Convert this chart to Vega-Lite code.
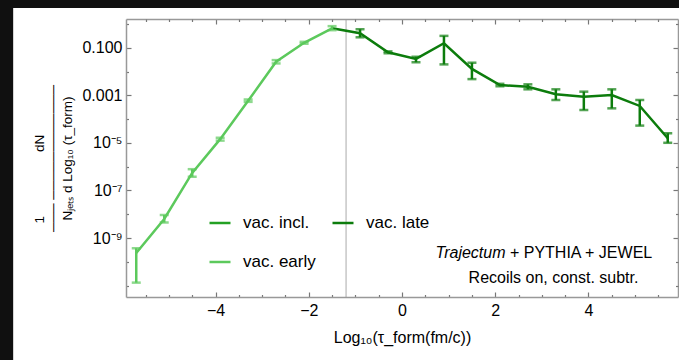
{
  "$schema": "https://vega.github.io/schema/vega-lite/v6.json",
  "width": 552,
  "height": 278,
  "autosize": {"type": "none"},
  "padding": {"left": 126, "top": 19, "right": 1, "bottom": 63},
  "background": "#101010",
  "config": {
    "font": "Liberation Sans",
    "view": {"stroke": null},
    "axis": {"grid": false, "labelFont": "Liberation Sans", "titleFont": "Liberation Sans", "labelColor": "#000000", "titleColor": "#000000", "titleFontWeight": "normal", "tickColor": "#777777", "tickWidth": 1.2, "domainColor": "#999999", "domainWidth": 1.5}
  },
  "datasets": {
    "points": [
      {"x": -5.7, "y": 2.34e-10, "lo": 1.32e-11, "hi": 3.7e-10, "series": "vac. early"},
      {"x": -5.1, "y": 6.3e-9, "lo": 4.5e-9, "hi": 9.3e-9, "series": "vac. early"},
      {"x": -4.5, "y": 5.5e-7, "lo": 3.8e-7, "hi": 7.9e-7, "series": "vac. early"},
      {"x": -3.9, "y": 1.45e-5, "lo": 1.26e-5, "hi": 1.66e-5, "series": "vac. early"},
      {"x": -3.3, "y": 6.0e-4, "lo": 5.4e-4, "hi": 6.8e-4, "series": "vac. early"},
      {"x": -2.7, "y": 0.0263, "lo": 0.0224, "hi": 0.0309, "series": "vac. early"},
      {"x": -2.1, "y": 0.166, "lo": 0.151, "hi": 0.182, "series": "vac. early"},
      {"x": -1.5, "y": 0.676, "lo": 0.562, "hi": 0.832, "series": "vac. early"},
      {"x": -1.5, "y": 0.676, "lo": null, "hi": null, "series": "vac. late"},
      {"x": -0.9, "y": 0.417, "lo": 0.282, "hi": 0.617, "series": "vac. late"},
      {"x": -0.3, "y": 0.066, "lo": 0.06, "hi": 0.072, "series": "vac. late"},
      {"x": 0.3, "y": 0.0347, "lo": 0.0251, "hi": 0.0427, "series": "vac. late"},
      {"x": 0.9, "y": 0.158, "lo": 0.0204, "hi": 0.324, "series": "vac. late"},
      {"x": 1.5, "y": 0.0132, "lo": 0.0049, "hi": 0.024, "series": "vac. late"},
      {"x": 2.1, "y": 0.00275, "lo": 0.00245, "hi": 0.0031, "series": "vac. late"},
      {"x": 2.7, "y": 0.00234, "lo": 0.00182, "hi": 0.00295, "series": "vac. late"},
      {"x": 3.3, "y": 0.00112, "lo": 0.000646, "hi": 0.00182, "series": "vac. late"},
      {"x": 3.9, "y": 0.00089, "lo": 0.000245, "hi": 0.00145, "series": "vac. late"},
      {"x": 4.5, "y": 0.00105, "lo": 0.000288, "hi": 0.00182, "series": "vac. late"},
      {"x": 5.1, "y": 0.000363, "lo": 5.4e-5, "hi": 0.000646, "series": "vac. late"},
      {"x": 5.7, "y": 1.58e-5, "lo": 1.02e-5, "hi": 2.57e-5, "series": "vac. late"}
    ],
    "one": [{"n": 1}]
  },
  "resolve": {"axis": {"x": "independent", "y": "independent"}},
  "layer": [
    {
      "data": {"name": "one"},
      "mark": {"type": "rect", "color": "#ffffff"},
      "encoding": {
        "x": {"datum": -8.34, "type": "quantitative", "axis": {"zindex": 1, "orient": "bottom", "values": [-5.5, -5, -4.5, -3.5, -3, -2.5, -1.5, -1, -0.5, 0.5, 1, 1.5, 2.5, 3, 3.5, 4.5, 5, 5.5], "tickSize": -2.5, "labels": false, "domain": false, "title": null}},
        "x2": {"datum": 8},
        "y": {"datum": 4.83, "type": "quantitative", "axis": {"zindex": 1, "orient": "left", "values": [1, 0.01, 0.0001, 1e-6, 1e-8, 1e-10, 1e-11], "tickSize": -2.5, "labels": false, "domain": false, "title": null}},
        "y2": {"datum": 1e-16}
      }
    },
    {
      "data": {"name": "one"},
      "mark": {"type": "rule", "color": "#aaaaaa", "strokeWidth": 1},
      "encoding": {"x": {"datum": -1.2, "type": "quantitative", "axis": null}}
    },
    {
      "data": {"name": "points"},
      "mark": {"type": "line", "strokeWidth": 2.5},
      "encoding": {
        "x": {"field": "x", "type": "quantitative", "scale": {"domain": [-5.92, 5.92], "nice": false, "zero": false},
          "axis": {"zindex": 1, "orient": "bottom", "values": [-4, -2, 0, 2, 4], "tickSize": -5, "labelPadding": 10, "labelFontSize": 16, "title": "Log₁₀(τ_form(fm/c))", "titleFontSize": 16, "titlePadding": 11}},
        "y": {"field": "y", "type": "quantitative", "scale": {"type": "log", "domain": [3.28e-12, 1.663], "nice": false},
          "axis": {"zindex": 1, "orient": "left", "values": [0.1, 0.001, 1e-5, 1e-7, 1e-9], "tickSize": -5, "labelPadding": 9, "labelFontSize": 16,
            "labelExpr": "datum.value > 0.05 ? '0.100' : datum.value > 0.0005 ? '0.001' : datum.value > 5e-6 ? '10⁻⁵' : datum.value > 5e-8 ? '10⁻⁷' : '10⁻⁹'",
            "title": ["1\u00a0\u00a0\u00a0\u00a0\u00a0\u00a0\u00a0\u00a0\u00a0\u00a0\u00a0\u00a0\u00a0\u00a0\u00a0\u00a0\u00a0dN\u00a0\u00a0\u00a0\u00a0\u00a0\u00a0\u00a0\u00a0\u00a0\u00a0\u00a0\u200b", "───\u00a0────────────", "Nⱼₑₜₛ d Log₁₀ (τ_form)"], "titleFontSize": 13.5, "titleLineHeight": 14, "titlePadding": 7}},
        "color": {"field": "series", "type": "nominal",
          "scale": {"domain": ["vac. incl.", "vac. late", "vac. early"], "range": ["#23a023", "#0c7c0c", "#5cc95c"]},
          "legend": {"orient": "none", "legendX": 82, "legendY": 192, "columns": 2, "direction": "horizontal", "title": null, "labelFontSize": 17, "labelColor": "#000000", "symbolType": "stroke", "symbolSize": 441, "symbolStrokeWidth": 2.5, "rowPadding": 19, "columnPadding": 11, "labelOffset": 11, "padding": 0}},
        "detail": {"field": "series"}
      }
    },
    {
      "data": {"name": "points"},
      "transform": [{"filter": "isValid(datum.lo)"}],
      "mark": {"type": "errorbar", "thickness": 2.5, "ticks": {"size": 9, "thickness": 2.5}},
      "encoding": {
        "x": {"field": "x", "type": "quantitative", "axis": null},
        "y": {"field": "lo", "type": "quantitative", "axis": null},
        "y2": {"field": "hi"},
        "color": {"field": "series", "type": "nominal", "legend": null}
      }
    },
    {
      "data": {"name": "one"},
      "mark": {"type": "text", "align": "right", "baseline": "middle", "fontSize": 16, "fontStyle": "italic", "color": "#000000"},
      "encoding": {
        "x": {"datum": 2.22, "type": "quantitative", "axis": {"zindex": 1, "orient": "top", "values": [-4, -2, 0, 2, 4], "tickSize": -5, "labels": false, "title": null}},
        "y": {"datum": 2.34e-10, "type": "quantitative", "axis": {"zindex": 1, "orient": "right", "values": [0.1, 0.001, 1e-5, 1e-7, 1e-9], "tickSize": -5, "labels": false, "title": null}},
        "text": {"value": "Trajectum"}
      }
    },
    {
      "data": {"name": "one"},
      "mark": {"type": "text", "align": "left", "baseline": "middle", "fontSize": 16, "color": "#000000"},
      "encoding": {
        "x": {"datum": 2.315, "type": "quantitative", "axis": {"zindex": 1, "orient": "top", "values": [-5.5, -5, -4.5, -3.5, -3, -2.5, -1.5, -1, -0.5, 0.5, 1, 1.5, 2.5, 3, 3.5, 4.5, 5, 5.5], "tickSize": -2.5, "labels": false, "domain": false, "title": null}},
        "y": {"datum": 2.34e-10, "type": "quantitative", "axis": {"zindex": 1, "orient": "right", "values": [1, 0.01, 0.0001, 1e-6, 1e-8, 1e-10, 1e-11], "tickSize": -2.5, "labels": false, "domain": false, "title": null}},
        "text": {"value": "+ PYTHIA + JEWEL"}
      }
    },
    {
      "data": {"name": "one"},
      "mark": {"type": "text", "align": "center", "baseline": "middle", "fontSize": 16, "color": "#000000"},
      "encoding": {
        "x": {"datum": 3.25, "type": "quantitative", "axis": null},
        "y": {"datum": 2.1e-11, "type": "quantitative", "axis": null},
        "text": {"value": "Recoils on, const. subtr."}
      }
    }
  ]
}
